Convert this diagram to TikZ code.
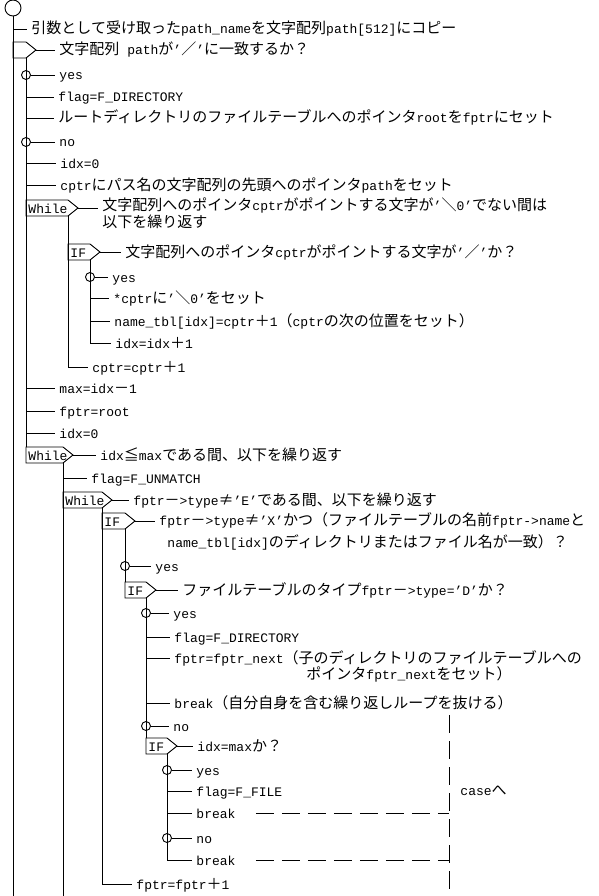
\documentclass[tikz,border=0pt]{standalone}
\usepackage{fontspec}
\setmainfont{Liberation Mono}
\newfontfamily\cjkfont{Noto Sans CJK JP}[Scale=1.154]
\usetikzlibrary{calc}

\makeatletter
\newXeTeXintercharclass\cjkclass
\newcommand{\cjkrange}[2]{%
  \count@=#1\relax
  \loop
    \XeTeXcharclass\count@=\cjkclass
  \ifnum\count@<#2\relax
    \advance\count@ by 1
  \repeat}
\cjkrange{"2260}{"2267}
\cjkrange{"3000}{"30FF}
\cjkrange{"4E00}{"9FFF}
\cjkrange{"FF00}{"FFEF}
\makeatother
\XeTeXinterchartokenstate=1
\XeTeXinterchartoks 0 \cjkclass = {\begingroup\cjkfont}
\XeTeXinterchartoks 4095 \cjkclass = {\begingroup\cjkfont}
\XeTeXinterchartoks \cjkclass 0 = {\endgroup}
\XeTeXinterchartoks \cjkclass 4095 = {\endgroup}

\newcommand{\padbox}[5]{%
  \draw (#2,#3-8) -- ++(#4,0) -- ++(10,8) -- ++(-10,8) -- ++(-#4,0) -- cycle;
  \node [boxlabel] (#1) at (#2,#3) {#5};
  \coordinate (#1-top) at (#2,#3-8);
  \coordinate (#1-tip) at (#2+#4+10,#3);
  \coordinate (#1-foot) at (#2+#4,#3+8);
}

\begin{document}
\begin{tikzpicture}[x=1pt, y=-1pt, line width=0.9pt,
    stmt/.style = {anchor=west, inner xsep=4pt, inner ysep=0pt, text height=12pt, text depth=2pt, font=\fontsize{13}{15}\selectfont},
    boxlabel/.style = {stmt, inner xsep=2pt},
    branch/.style = {draw, circle, inner sep=0pt, minimum size=9pt},
    jump/.style = {dash pattern=on 18pt off 8pt}]
    \useasboundingbox (0,0) rectangle (599,896);

    \node [draw, circle, inner sep=0pt, minimum size=16pt] (start) at (13,8) {};
    \coordinate (end) at (13,896);
    \draw (start) -- (end);

    \node [stmt] (copy) at (27,29) {引数として受け取ったpath\_nameを文字配列path[512]にコピー};
    \draw (copy.west -| start) -- (copy.west);

    \padbox{if1}{13}{50}{13}{}
    \node [stmt] (slash) at (55,50) {文字配列 pathが’／’に一致するか？};
    \draw (if1-tip) -- (slash.west);

    \node [branch] (yes1) at (26,75) {};
    \node [stmt] (yes1t) at (55,75) {yes};
    \draw (yes1) -- (yes1t.west);
    \node [stmt] (dirflag) at (54,97) {flag=F\_DIRECTORY};
    \node [stmt] (root) at (54,118) {ルートディレクトリのファイルテーブルへのポインタrootをfptrにセット};
    \node [branch] (no1) at (26,142) {};
    \node [stmt] (no1t) at (55,142) {no};
    \draw (no1) -- (no1t.west);
    \node [stmt] (idxa) at (56,163) {idx=0};
    \node [stmt] (cptr) at (56,185) {cptrにパス名の文字配列の先頭へのポインタpathをセット};
    \foreach \s in {dirflag, root, idxa, cptr}
        \draw (\s.west -| if1-foot) -- (\s.west);

    \padbox{w1}{26}{208}{42}{While}
    \node [stmt] (w1c) at (98,205) {文字配列へのポインタcptrがポイントする文字が’＼0’でない間は};
    \node [stmt] (w1d) at (98,222) {以下を繰り返す};
    \draw (w1-tip) -- (w1-tip -| w1c.west);

    \padbox{if2}{68}{252}{22}{IF}
    \node [stmt] (if2c) at (121,252) {文字配列へのポインタcptrがポイントする文字が’／’か？};
    \draw (if2-tip) -- (if2c.west);
    \node [branch] (yes2) at (90,277) {};
    \node [stmt] (yes2t) at (108,277) {yes};
    \draw (yes2) -- (yes2t.west);
    \node [stmt] (nul) at (109,298) {*cptrに’＼0’をセット};
    \node [stmt] (tbl) at (110,321) {name\_tbl[idx]=cptr＋1（cptrの次の位置をセット）};
    \node [stmt] (idxb) at (111,343) {idx=idx＋1};
    \foreach \s in {nul, tbl, idxb}
        \draw (\s.west -| if2-foot) -- (\s.west);
    \draw (if2-foot) -- (idxb.west -| if2-foot);

    \node [stmt] (cinc) at (88,367) {cptr=cptr＋1};
    \draw (w1-foot) -- (cinc.west -| w1-foot) -- (cinc.west);

    \node [stmt] (max) at (55,388) {max=idx－1};
    \node [stmt] (froot) at (55,411) {fptr=root};
    \node [stmt] (idxc) at (55,433) {idx=0};
    \foreach \s in {max, froot, idxc}
        \draw (\s.west -| if1-foot) -- (\s.west);

    \padbox{w2}{26}{455}{37}{While}
    \draw (if1-foot) -- (w2-top);
    \node [stmt] (w2c) at (96,455) {idx≦maxである間、以下を繰り返す};
    \draw (w2-tip) -- (w2c.west);
    \draw (w2-foot) -- (w2-foot |- end);

    \node [stmt] (unmatch) at (87,478) {flag=F\_UNMATCH};
    \draw (unmatch.west -| w2-foot) -- (unmatch.west);

    \padbox{w3}{63}{500}{39}{While}
    \node [stmt] (w3c) at (129,500) {fptr－>type≠’E’である間、以下を繰り返す};
    \draw (w3-tip) -- (w3c.west);

    \padbox{if3}{102}{521}{23}{IF}
    \node [stmt] (if3c) at (155,520) {fptr－>type≠’X’かつ（ファイルテーブルの名前fptr->nameと};
    \node [stmt] (if3d) at (163,542) {name\_tbl[idx]のディレクトリまたはファイル名が一致）？};
    \draw (if3-tip) -- (if3-tip -| if3c.west);
    \node [branch] (yes3) at (125,566) {};
    \node [stmt] (yes3t) at (151,566) {yes};
    \draw (yes3) -- (yes3t.west);

    \padbox{if4}{125}{590}{21}{IF}
    \draw (if3-foot) -- (if4-top);
    \node [stmt] (if4c) at (178,590) {ファイルテーブルのタイプfptr－>type=’D’か？};
    \draw (if4-tip) -- (if4c.west);
    \node [branch] (yes4) at (146,613) {};
    \node [stmt] (yes4t) at (169,613) {yes};
    \draw (yes4) -- (yes4t.west);
    \node [stmt] (dirflagb) at (170,637) {flag=F\_DIRECTORY};
    \node [stmt] (next) at (170,658) {fptr=fptr\_next（子のディレクトリのファイルテーブルへの};
    \node [stmt] (nextb) at (302,674) {ポインタfptr\_nextをセット）};
    \node [stmt] (brka) at (170,703) {break（自分自身を含む繰り返しループを抜ける）};
    \foreach \s in {dirflagb, next, brka}
        \draw (\s.west -| if4-foot) -- (\s.west);
    \node [branch] (no4) at (146,726) {};
    \node [stmt] (no4t) at (169,726) {no};
    \draw (no4) -- (no4t.west);

    \padbox{if5}{146}{746}{21}{IF}
    \draw (if4-foot) -- (if5-top);
    \node [stmt] (if5c) at (193,746) {idx=maxか？};
    \draw (if5-tip) -- (if5c.west);
    \node [branch] (yes5) at (167,770) {};
    \node [stmt] (yes5t) at (192,770) {yes};
    \draw (yes5) -- (yes5t.west);
    \node [stmt] (fileflag) at (192,791) {flag=F\_FILE};
    \node [stmt] (brkb) at (192,813) {break};
    \node [branch] (no5) at (167,838) {};
    \node [stmt] (no5t) at (192,838) {no};
    \draw (no5) -- (no5t.west);
    \node [stmt] (brkc) at (192,860) {break};
    \foreach \s in {fileflag, brkb, brkc}
        \draw (\s.west -| if5-foot) -- (\s.west);
    \draw (if5-foot) -- (brkc.west -| if5-foot);

    \node [stmt] (finc) at (132,884) {fptr=fptr＋1};
    \draw (w3-foot) -- (finc.west -| w3-foot) -- (finc.west);

    \coordinate (exittop) at (449,715);
    \coordinate (exit) at (449,896);
    \draw [jump] (exittop) -- (exit);
    \draw [jump] ([xshift=16pt]brkb.east) -- (brkb.west -| exit);
    \draw [jump] ([xshift=16pt]brkc.east) -- (brkc.west -| exit);
    \node [stmt] (case) at (456,790) {caseへ};
\end{tikzpicture}
\end{document}
